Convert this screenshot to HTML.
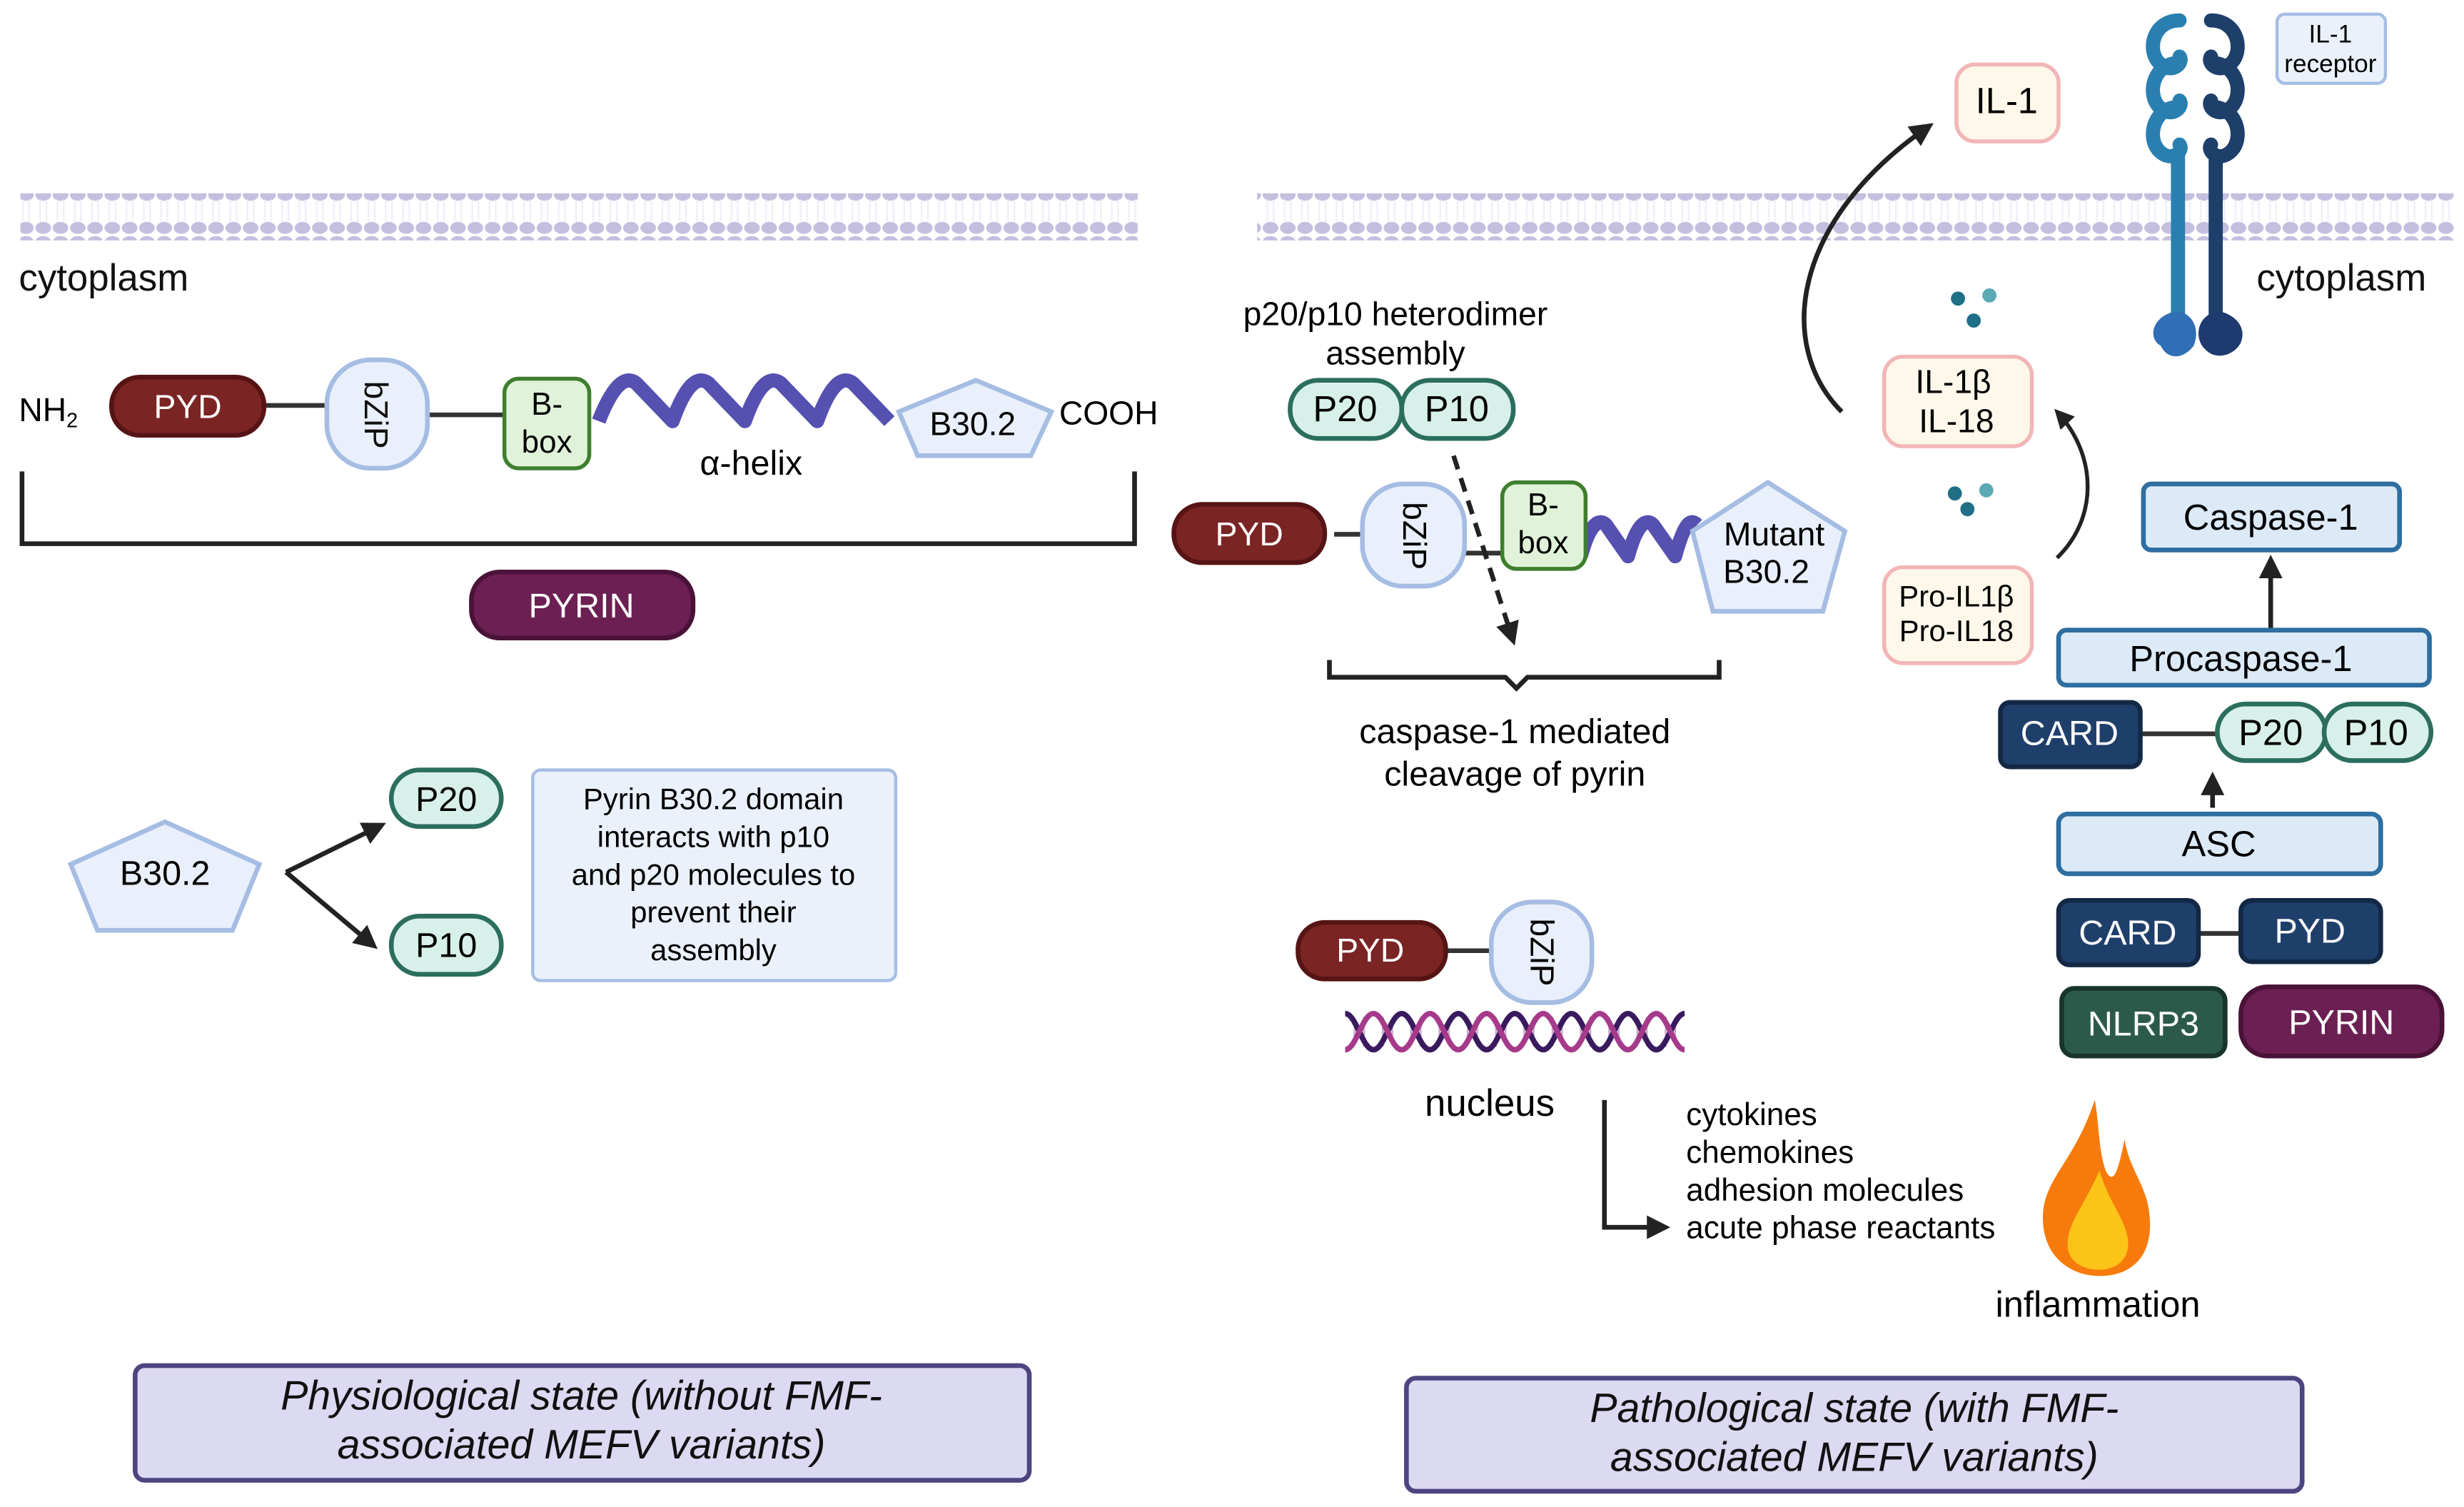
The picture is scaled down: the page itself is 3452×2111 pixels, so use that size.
<!DOCTYPE html>
<html><head><meta charset="utf-8"><style>
html,body{margin:0;padding:0;background:#fff}
svg{display:block}
text{font-family:"Liberation Sans Narrow","Liberation Sans",sans-serif;}
</style></head><body>
<svg width="3452" height="2111" viewBox="0 0 1568 959" preserveAspectRatio="none" xmlns="http://www.w3.org/2000/svg">
<defs>
<pattern id="mem" x="0" y="0" width="11" height="30" patternUnits="userSpaceOnUse">
<ellipse cx="5.5" cy="4" rx="5" ry="3.8" fill="#c4bfdf"/>
<ellipse cx="5.5" cy="25" rx="5" ry="3.8" fill="#c4bfdf"/>
<path d="M3.5 7 L3.5 21 M7.5 7 L7.5 21" stroke="#efedf8" stroke-width="1"/>
</pattern>
<marker id="ah" viewBox="0 0 10 10" refX="8" refY="5" markerWidth="5" markerHeight="5" orient="auto"><path d="M0 0 L10 5 L0 10 z" fill="#222"/></marker>
</defs>
<!-- membranes -->
<rect x="13" y="123" width="711" height="30" fill="url(#mem)"/>
<rect x="800" y="123" width="762" height="30" fill="url(#mem)"/>
<g font-size="24" fill="#111">
<text x="12" y="185">cytoplasm</text>
<text x="1436" y="185">cytoplasm</text>
</g>

<!-- LEFT pyrin -->
<text x="12" y="268" font-size="21">NH<tspan font-size="13" dy="4">2</tspan></text>
<line x1="166" y1="258" x2="208" y2="258" stroke="#333" stroke-width="3"/>
<line x1="271" y1="264" x2="321" y2="264" stroke="#333" stroke-width="3"/>
<rect x="71" y="240" width="97" height="37" rx="18" fill="#7b2424" stroke="#561414" stroke-width="3"/>
<text x="119.5" y="266" font-size="21" fill="#fff" text-anchor="middle">PYD</text>
<rect x="208" y="229" width="64" height="69" rx="28" fill="#e9f0fb" stroke="#a6bde3" stroke-width="3"/>
<text transform="translate(232,264) rotate(90)" font-size="21" text-anchor="middle" fill="#111">bZiP</text>
<rect x="321" y="241" width="54" height="57" rx="9" fill="#e0f3d9" stroke="#3e7f2e" stroke-width="2.5"/>
<text x="348" y="264" font-size="20" text-anchor="middle">B-</text>
<text x="348" y="288" font-size="20" text-anchor="middle">box</text>
<path d="M381 268 C392 240 400 240 405 244 L428 268 C438 240 446 240 451 244 L474 268 C484 240 492 240 497 244 L520 268 C530 240 538 240 543 244 L566 268" fill="none" stroke="#5650b0" stroke-width="9" stroke-linejoin="round"/>
<text x="478" y="302" font-size="22" text-anchor="middle">α-helix</text>
<polygon points="621,242 669,262 656,290 584,290 572,262" fill="#e9f0fb" stroke="#a6bde3" stroke-width="3"/>
<text x="619" y="277" font-size="21" text-anchor="middle">B30.2</text>
<text x="674" y="270" font-size="21">COOH</text>
<path d="M14 300 L14 346 L722 346 L722 300" fill="none" stroke="#222" stroke-width="3"/>
<rect x="300" y="364" width="141" height="42" rx="18" fill="#6b1f52" stroke="#4a1238" stroke-width="3"/>
<text x="370" y="393" font-size="22" fill="#fff" text-anchor="middle">PYRIN</text>

<!-- left B30.2 interaction -->
<polygon points="105,523 165,550 148,592 62,592 45,550" fill="#e9f0fb" stroke="#a6bde3" stroke-width="3"/>
<text x="105" y="563" font-size="22" text-anchor="middle">B30.2</text>
<line x1="182" y1="555" x2="243" y2="525" stroke="#222" stroke-width="3" marker-end="url(#ah)"/>
<line x1="182" y1="555" x2="238" y2="602" stroke="#222" stroke-width="3" marker-end="url(#ah)"/>
<rect x="249" y="490" width="70" height="36" rx="18" fill="#d8f0ea" stroke="#2b6e5e" stroke-width="3"/>
<text x="284" y="516" font-size="22" text-anchor="middle">P20</text>
<rect x="249" y="583" width="70" height="37" rx="18" fill="#d8f0ea" stroke="#2b6e5e" stroke-width="3"/>
<text x="284" y="609" font-size="22" text-anchor="middle">P10</text>
<rect x="339" y="490" width="231" height="134" rx="5" fill="#eaf1fb" stroke="#a6bde3" stroke-width="2"/>
<g font-size="19" text-anchor="middle"><text x="454" y="515">Pyrin B30.2 domain</text><text x="454" y="539">interacts with p10</text><text x="454" y="563">and p20 molecules to</text><text x="454" y="587">prevent their</text><text x="454" y="611">assembly</text></g>

<!-- bottom labels -->
<rect x="86" y="869" width="569" height="73" rx="6" fill="#dcd9f2" stroke="#4c4580" stroke-width="3"/>
<g font-size="26" font-style="italic" text-anchor="middle" fill="#111"><text x="370" y="897">Physiological state (without FMF-</text><text x="370" y="928">associated MEFV variants)</text></g>
<rect x="895" y="877" width="570" height="72" rx="6" fill="#dcd9f2" stroke="#4c4580" stroke-width="3"/>
<g font-size="26" font-style="italic" text-anchor="middle" fill="#111"><text x="1180" y="905">Pathological state (with FMF-</text><text x="1180" y="936">associated MEFV variants)</text></g>

<!-- RIGHT: heterodimer -->
<g font-size="21" text-anchor="middle"><text x="888" y="207">p20/p10 heterodimer</text><text x="888" y="232">assembly</text></g>
<rect x="821" y="242" width="71" height="37" rx="18" fill="#d8f0ea" stroke="#2b6e5e" stroke-width="3"/>
<text x="856" y="268" font-size="23" text-anchor="middle">P20</text>
<rect x="892" y="242" width="71" height="37" rx="18" fill="#d8f0ea" stroke="#2b6e5e" stroke-width="3"/>
<text x="927" y="268" font-size="23" text-anchor="middle">P10</text>

<line x1="849" y1="340" x2="867" y2="340" stroke="#333" stroke-width="3"/>
<line x1="931" y1="352" x2="956" y2="352" stroke="#333" stroke-width="3"/>
<rect x="747" y="321" width="96" height="37" rx="18" fill="#7b2424" stroke="#561414" stroke-width="3"/>
<text x="795" y="347" font-size="21" fill="#fff" text-anchor="middle">PYD</text>
<rect x="867" y="308" width="65" height="65" rx="26" fill="#e9f0fb" stroke="#a6bde3" stroke-width="3"/>
<text transform="translate(893,341) rotate(90)" font-size="21" text-anchor="middle">bZiP</text>
<path d="M1006 354 C1012 332 1018 330 1022 334 L1036 354 C1042 332 1048 330 1052 334 L1066 354 C1072 332 1076 330 1080 334" fill="none" stroke="#5650b0" stroke-width="9" stroke-linejoin="round"/>
<rect x="956" y="307" width="53" height="55" rx="9" fill="#e0f3d9" stroke="#3e7f2e" stroke-width="2.5"/>
<text x="982" y="328" font-size="20" text-anchor="middle">B-</text>
<text x="982" y="352" font-size="20" text-anchor="middle">box</text>
<polygon points="1125,307 1174,338 1160,389 1090,389 1077,338" fill="#e9f0fb" stroke="#a6bde3" stroke-width="3"/>
<text x="1129" y="347" font-size="21" text-anchor="middle">Mutant</text>
<text x="1124" y="371" font-size="21" text-anchor="middle">B30.2</text>
<line x1="925" y1="290" x2="963" y2="408" stroke="#222" stroke-width="3" stroke-dasharray="9,6" marker-end="url(#ah)"/>
<path d="M846 420 L846 431 L958 431 L965 438 L972 431 L1094 431 L1094 420" fill="none" stroke="#222" stroke-width="3"/>
<g font-size="22" text-anchor="middle"><text x="964" y="473">caspase-1 mediated</text><text x="964" y="500">cleavage of pyrin</text></g>

<!-- nucleus -->
<line x1="918" y1="605" x2="950" y2="605" stroke="#333" stroke-width="3"/>
<rect x="826" y="587" width="94" height="36" rx="17" fill="#7b2424" stroke="#561414" stroke-width="3"/>
<text x="872" y="612" font-size="21" fill="#fff" text-anchor="middle">PYD</text>
<rect x="949" y="574" width="64" height="64" rx="26" fill="#e9f0fb" stroke="#a6bde3" stroke-width="3"/>
<text transform="translate(974,606) rotate(90)" font-size="21" text-anchor="middle">bZiP</text>
<g stroke="#c9a8cf" stroke-width="1.2">
<path d="M862 649 V664 M868 647 V666 M880 647 V666 M886 649 V664 M898 649 V664 M904 647 V666 M916 647 V666 M922 649 V664 M934 649 V664 M940 647 V666 M952 647 V666 M958 649 V664 M970 649 V664 M976 647 V666 M988 647 V666 M994 649 V664 M1006 649 V664 M1012 647 V666 M1024 647 V666 M1030 649 V664 M1042 649 V664 M1048 647 V666 M1060 647 V666 M1066 649 V664"/>
</g>
<g fill="none" stroke-width="3.5">
<path d="M856 645 C863 645 867 668 874 668 C881 668 885 645 892 645 C899 645 903 668 910 668 C917 668 921 645 928 645 C935 645 939 668 946 668 C953 668 957 645 964 645 C971 645 975 668 982 668 C989 668 993 645 1000 645 C1007 645 1011 668 1018 668 C1025 668 1029 645 1036 645 C1043 645 1047 668 1054 668 C1061 668 1065 645 1072 645" stroke="#3a1a5e"/>
<path d="M856 668 C863 668 867 645 874 645 C881 645 885 668 892 668 C899 668 903 645 910 645 C917 645 921 668 928 668 C935 668 939 645 946 645 C953 645 957 668 964 668 C971 668 975 645 982 645 C989 645 993 668 1000 668 C1007 668 1011 645 1018 645 C1025 645 1029 668 1036 668 C1043 668 1047 645 1054 645 C1061 645 1065 668 1072 668" stroke="#a63a8a"/>
</g>
<text x="948" y="710" font-size="24" text-anchor="middle">nucleus</text>
<path d="M1021 700 L1021 781 L1060 781" fill="none" stroke="#222" stroke-width="3" marker-end="url(#ah)"/>
<g font-size="20"><text x="1073" y="716">cytokines</text><text x="1073" y="740">chemokines</text><text x="1073" y="764">adhesion molecules</text><text x="1073" y="788">acute phase reactants</text></g>
<path d="M1333 700 C1320 740 1300 750 1300 775 C1300 800 1318 812 1336 812 C1356 812 1370 800 1368 775 C1367 755 1355 745 1352 725 C1348 745 1345 755 1340 745 C1335 730 1336 715 1333 700 Z" fill="#f77b0c"/>
<path d="M1336 745 C1325 770 1314 780 1316 795 C1318 805 1328 808 1336 808 C1348 808 1356 800 1354 788 C1352 775 1342 765 1336 745 Z" fill="#fcc419"/>
<text x="1335" y="838" font-size="23" text-anchor="middle">inflammation</text>

<!-- IL-1 and receptor -->
<rect x="1245" y="41" width="65" height="49" rx="12" fill="#fdf8ea" stroke="#f2b6b6" stroke-width="2.5"/>
<text x="1277" y="72" font-size="23" text-anchor="middle">IL-1</text>
<path d="M1172 262 C1130 220 1140 140 1228 80" fill="none" stroke="#222" stroke-width="3" marker-end="url(#ah)"/>
<g fill="none" stroke-width="9" stroke-linecap="round">
<path d="M1387 13 C1370 13 1366 32 1374 40 C1382 48 1390 40 1387 36 M1387 40 C1370 40 1366 60 1374 68 C1382 76 1390 68 1387 64 M1387 68 C1370 68 1366 88 1374 96 C1382 104 1390 96 1387 92 M1386 100 L1386 205" stroke="#2a7fb0"/>
<path d="M1407 13 C1424 13 1428 32 1420 40 C1412 48 1404 40 1407 36 M1407 40 C1424 40 1428 60 1420 68 C1412 76 1404 68 1407 64 M1407 68 C1424 68 1428 88 1420 96 C1412 104 1404 96 1407 92 M1410 100 L1410 205" stroke="#1f3f6b"/>
</g>
<path d="M1386 198 C1370 200 1366 215 1375 220 C1380 230 1390 228 1396 220 C1400 210 1396 200 1386 198Z" fill="#2f6fb5"/>
<path d="M1412 198 C1398 200 1396 215 1403 222 C1410 230 1422 226 1426 218 C1430 208 1422 200 1412 198Z" fill="#1e3a6e"/>
<rect x="1449" y="9" width="69" height="44" rx="5" fill="#eaf1fb" stroke="#a6bde3" stroke-width="2"/>
<text x="1483" y="27" font-size="16" text-anchor="middle">IL-1</text>
<text x="1483" y="46" font-size="16" text-anchor="middle">receptor</text>

<g fill="#1f6f86"><circle cx="1246" cy="190" r="4.5"/><circle cx="1266" cy="188" r="4.5" fill="#5aa9b5"/><circle cx="1256" cy="204" r="4.5"/>
<circle cx="1244" cy="314" r="4.5"/><circle cx="1264" cy="312" r="4.5" fill="#5aa9b5"/><circle cx="1252" cy="324" r="4.5"/></g>

<rect x="1199" y="227" width="94" height="57" rx="12" fill="#fdf8ea" stroke="#f2b6b6" stroke-width="2.5"/>
<text x="1243" y="250" font-size="21" text-anchor="middle">IL-1β</text>
<text x="1245" y="275" font-size="21" text-anchor="middle">IL-18</text>
<rect x="1199" y="361" width="94" height="61" rx="12" fill="#fdf8ea" stroke="#f2b6b6" stroke-width="2.5"/>
<text x="1245" y="386" font-size="19" text-anchor="middle">Pro-IL1β</text>
<text x="1245" y="408" font-size="19" text-anchor="middle">Pro-IL18</text>
<path d="M1309 355 C1335 330 1335 290 1309 262" fill="none" stroke="#222" stroke-width="2.5" marker-end="url(#ah)"/>

<!-- caspase stack -->
<rect x="1364" y="308" width="163" height="42" rx="5" fill="#dceaf8" stroke="#2e6ea0" stroke-width="3"/>
<text x="1445" y="337" font-size="23" text-anchor="middle">Caspase-1</text>
<line x1="1445" y1="400" x2="1445" y2="356" stroke="#222" stroke-width="3" marker-end="url(#ah)"/>
<rect x="1310" y="401" width="236" height="35" rx="5" fill="#dceaf8" stroke="#2e6ea0" stroke-width="3"/>
<text x="1426" y="427" font-size="23" text-anchor="middle">Procaspase-1</text>
<line x1="1362" y1="467" x2="1412" y2="467" stroke="#333" stroke-width="3"/>
<rect x="1273" y="447" width="89" height="41" rx="6" fill="#1f3f6b" stroke="#132845" stroke-width="3"/>
<text x="1317" y="474" font-size="22" fill="#fff" text-anchor="middle">CARD</text>
<rect x="1411" y="448" width="69" height="36" rx="18" fill="#d8f0ea" stroke="#2b6e5e" stroke-width="3"/>
<text x="1445" y="474" font-size="23" text-anchor="middle">P20</text>
<rect x="1479" y="448" width="68" height="36" rx="18" fill="#d8f0ea" stroke="#2b6e5e" stroke-width="3"/>
<text x="1512" y="474" font-size="23" text-anchor="middle">P10</text>
<line x1="1408" y1="514" x2="1408" y2="494" stroke="#222" stroke-width="3" marker-end="url(#ah)"/>
<rect x="1310" y="518" width="205" height="38" rx="6" fill="#dceaf8" stroke="#2e6ea0" stroke-width="3"/>
<text x="1412" y="545" font-size="23" text-anchor="middle">ASC</text>
<line x1="1398" y1="594" x2="1426" y2="594" stroke="#333" stroke-width="3"/>
<rect x="1310" y="573" width="89" height="41" rx="7" fill="#1f3f6b" stroke="#132845" stroke-width="3"/>
<text x="1354" y="601" font-size="22" fill="#fff" text-anchor="middle">CARD</text>
<rect x="1426" y="573" width="89" height="39" rx="7" fill="#1f3f6b" stroke="#132845" stroke-width="3"/>
<text x="1470" y="600" font-size="22" fill="#fff" text-anchor="middle">PYD</text>
<rect x="1312" y="629" width="104" height="43" rx="8" fill="#2c5a4a" stroke="#173528" stroke-width="3"/>
<text x="1364" y="659" font-size="22" fill="#fff" text-anchor="middle">NLRP3</text>
<rect x="1426" y="628" width="128" height="44" rx="17" fill="#6b1f52" stroke="#4a1238" stroke-width="3"/>
<text x="1490" y="658" font-size="22" fill="#fff" text-anchor="middle">PYRIN</text>
</svg>
</body></html>
